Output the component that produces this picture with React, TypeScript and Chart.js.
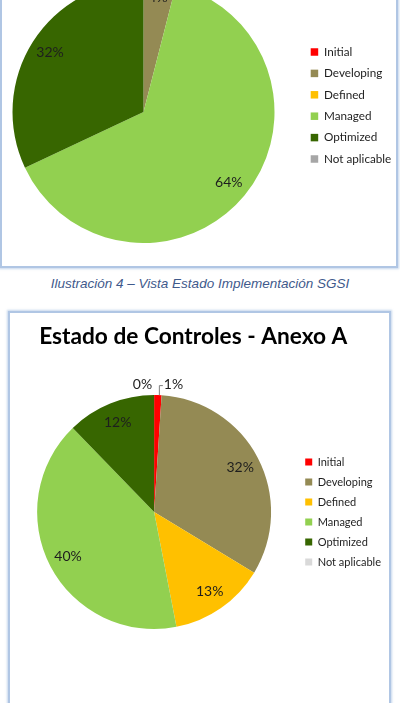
import React, { useEffect, useRef } from 'react';
import { Chart, registerables } from 'chart.js';

Chart.register(...registerables);

// Maturity levels shared by both pies
const levels = ['Initial', 'Developing', 'Defined', 'Managed', 'Optimized', 'Not aplicable'];

// SGSI implementation status (%)
const implementationPct = [0, 4, 0, 64, 32, 0];
// Annex A controls status (%)
const controlsPct = [1, 32, 13, 40, 12, 0];

const implementationColors = ['#ff0000', '#948a54', '#ffc000', '#92d050', '#376600', '#a6a6a6'];
const controlsColors = ['#ff0000', '#948a54', '#ffc000', '#92d050', '#376600', '#d9d9d9'];

// trailing spaces keep the heading optically centred over pie + legend
const controlsTitle = 'Estado de Controles - Anexo A   ';
const captionText = 'Ilustración 4 – Vista Estado Implementación SGSI';

const FONT = 'Lato, "Open Sans", sans-serif';

// Percentage labels: inside the slice near the rim, tiny slices go outside with a leader
const pctLabels = {
  id: 'pctLabels',
  afterDatasetsDraw(chart: any, _args: any, opts: any) {
    const { ctx } = chart;
    const meta = chart.getDatasetMeta(0);
    const values = chart.data.datasets[0].data as number[];
    const total = values.reduce((a: number, b: number) => a + b, 0);
    ctx.save();
    ctx.font = `${opts.size}px ${FONT}`;
    ctx.fillStyle = '#1e1e1e';
    ctx.textBaseline = 'middle';
    meta.data.forEach((el: any, i: number) => {
      const { x, y, startAngle, endAngle, outerRadius } = el.getProps(
        ['x', 'y', 'startAngle', 'endAngle', 'outerRadius'],
        true
      );
      const v = values[i];
      const text = `${v}%`;
      const mid = (startAngle + endAngle) / 2;
      const frac = v / total;
      if (frac < 0.02) {
        const ax = x + Math.cos(mid) * outerRadius;
        const ay = y + Math.sin(mid) * outerRadius;
        const rightSide = startAngle + Math.PI / 2 < Math.PI;
        const ly = ay - 11;
        if (rightSide) {
          ctx.textAlign = 'left';
          ctx.fillText(text, ax + 6, ly);
          if (v > 0) {
            ctx.strokeStyle = '#7f7f7f';
            ctx.lineWidth = 1;
            ctx.beginPath();
            ctx.moveTo(ax + 1.5, ay);
            ctx.lineTo(ax + 1.5, ly + 1.5);
            ctx.lineTo(ax + 5, ly + 1.5);
            ctx.stroke();
          }
        } else {
          ctx.textAlign = 'right';
          ctx.fillText(text, ax - 2, ly);
        }
        return;
      }
      const k = frac < 0.05 ? opts.narrowRatio : opts.ratio;
      ctx.textAlign = 'center';
      ctx.fillText(text, x + Math.cos(mid) * outerRadius * k, y + Math.sin(mid) * outerRadius * k);
    });
    ctx.restore();
  },
};

const frameStyle: React.CSSProperties = {
  position: 'absolute',
  boxSizing: 'border-box',
  border: '2px solid #b0c6e4',
  boxShadow: '0 0 2px 1px rgba(150,180,220,0.55)',
  background: '#fff',
};

export default function App() {
  const topRef = useRef<HTMLCanvasElement>(null);
  const botRef = useRef<HTMLCanvasElement>(null);

  useEffect(() => {
    const top = new Chart(topRef.current!, {
      type: 'pie',
      data: {
        labels: levels,
        datasets: [
          { data: implementationPct, backgroundColor: implementationColors, borderWidth: 0 },
        ],
      },
      options: {
        responsive: false,
        animation: false,
        layout: { padding: 0 },
        plugins: {
          title: { display: true, text: '', padding: { top: 13, bottom: 0 }, font: { size: 1, lineHeight: 0 } },
          legend: {
            position: 'right',
            align: 'center',
            fullSize: true,
            maxWidth: 91,
            labels: {
              boxWidth: 7.5,
              boxHeight: 7.5,
              padding: 9.7,
              color: '#1e1e1e',
              font: { family: FONT, size: 11.7 },
            },
          },
          tooltip: { enabled: false },
          pctLabels: { size: 14, ratio: 0.845, narrowRatio: 0.88 },
        } as any,
      },
      plugins: [pctLabels],
    });

    const bot = new Chart(botRef.current!, {
      type: 'pie',
      data: {
        labels: levels,
        datasets: [{ data: controlsPct, backgroundColor: controlsColors, borderWidth: 0 }],
      },
      options: {
        responsive: false,
        animation: false,
        layout: { padding: { left: 0, right: 1, top: 0, bottom: 74 } },
        plugins: {
          title: {
            display: true,
            text: controlsTitle,
            color: '#000',
            font: { family: FONT, size: 22.7, weight: 'bold', lineHeight: 1.2 },
            padding: { top: 9.4, bottom: 44.4 },
          },
          legend: {
            position: 'right',
            align: 'center',
            fullSize: false,
            labels: {
              boxWidth: 7,
              boxHeight: 7,
              padding: 9,
              color: '#1e1e1e',
              font: { family: FONT, size: 11 },
            },
          },
          tooltip: { enabled: false },
          pctLabels: { size: 14, ratio: 0.83, narrowRatio: 0.83 },
        } as any,
      },
      plugins: [pctLabels],
    });

    return () => {
      top.destroy();
      bot.destroy();
    };
  }, []);

  return (
    <div
      style={{
        position: 'fixed',
        left: 0,
        top: 0,
        width: 400,
        height: 703,
        overflow: 'hidden',
        background: '#fff',
      }}
    >
      <div style={{ ...frameStyle, left: 0, top: -20, width: 398, height: 288 }} />
      <canvas
        ref={topRef}
        width={406}
        height={275}
        style={{ position: 'absolute', left: -14, top: -32, width: 406, height: 275 }}
      />
      <div
        style={{
          position: 'absolute',
          left: 0,
          top: 276,
          width: 400,
          textAlign: 'center',
          fontFamily: '"Liberation Sans", Arial, sans-serif',
          fontStyle: 'italic',
          fontSize: 13.5,
          color: '#3f5a8c',
          lineHeight: '16px',
        }}
      >
        {captionText}
      </div>
      <div style={{ ...frameStyle, left: 8, top: 311, width: 383, height: 420 }} />
      <canvas
        ref={botRef}
        width={380}
        height={389}
        style={{ position: 'absolute', left: 12, top: 314, width: 380, height: 389 }}
      />
    </div>
  );
}
